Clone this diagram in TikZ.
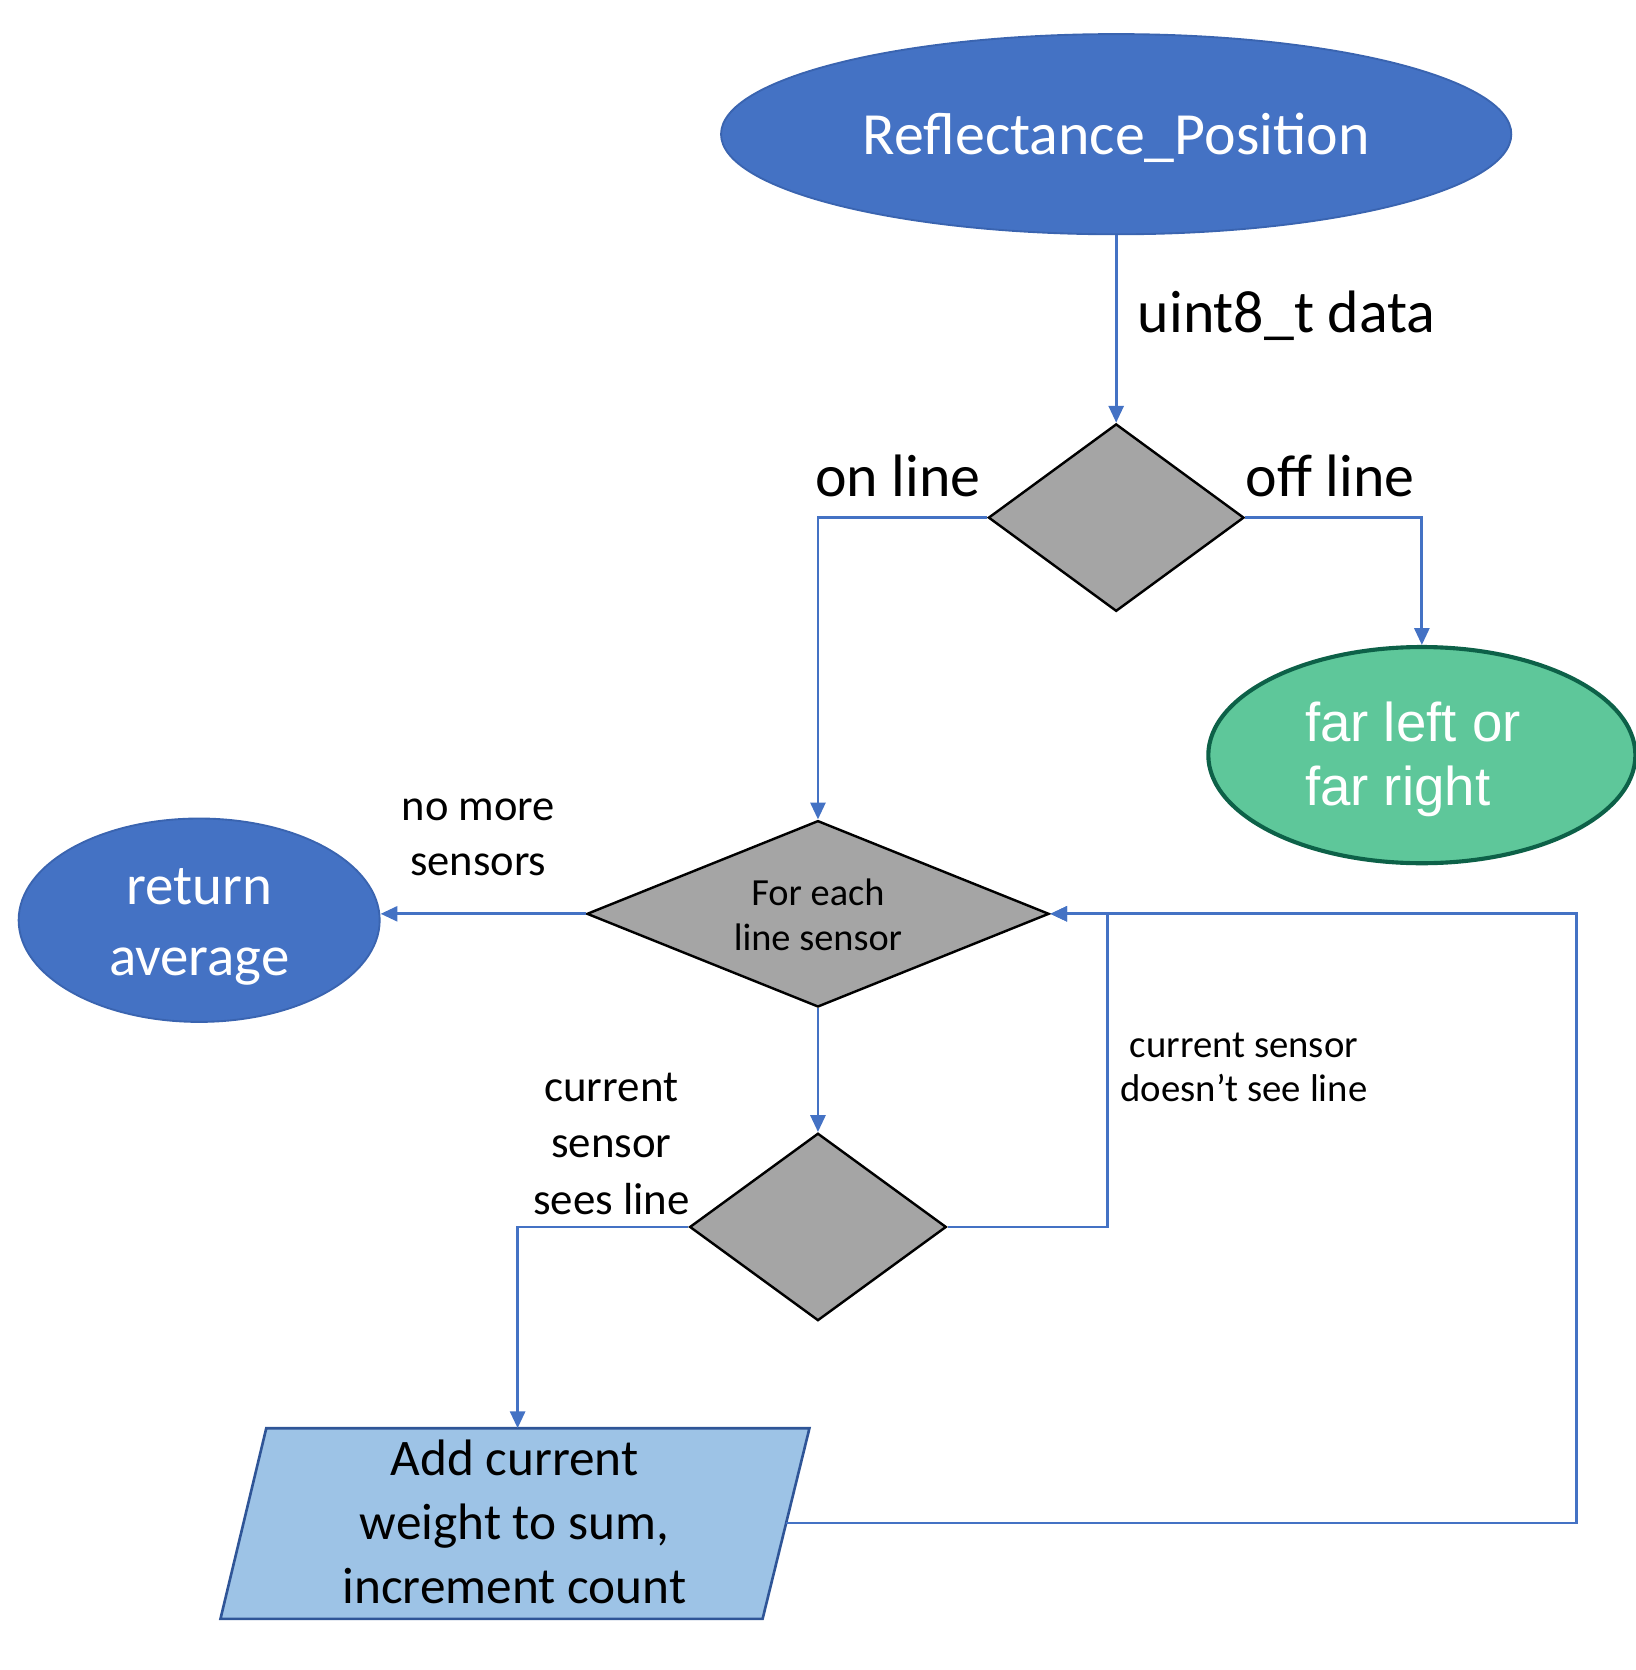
\documentclass[tikz,border=0pt]{standalone}
\usepackage{fontspec}
\setmainfont{Carlito}
\newfontfamily\arialf{Liberation Sans}
\usetikzlibrary{shapes.geometric,arrows.meta}
\definecolor{cblue}{HTML}{4472C4}
\definecolor{cblueedge}{HTML}{3A64B0}
\definecolor{cgreen}{HTML}{5EC79A}
\definecolor{cgreenedge}{HTML}{0D6148}
\definecolor{cgray}{HTML}{A5A5A5}
\definecolor{clight}{HTML}{9DC3E6}
\definecolor{clightedge}{HTML}{2F5597}
\begin{document}
\begin{tikzpicture}[x=0.02cm,y=-0.02cm,
  term/.style={ellipse,fill=cblue,draw=cblueedge,line width=1pt,inner sep=0pt,text=white},
  decide/.style={diamond,fill=cgray,draw=black,line width=1.3pt,inner sep=0pt},
  conn/.style={draw=cblue,line width=1.5pt},
  arr/.style={conn,-{Triangle[length=9pt,width=8pt]}},
  lbl/.style={inner sep=0pt,align=center,text=black}
]
\useasboundingbox (0,0) rectangle (1536,1568);

% nodes
\node[term,minimum width=742*0.02cm,minimum height=188*0.02cm] (top) at (1048,126) {};
\node[inner sep=0pt,text=white,font=\fontsize{32}{39}\selectfont] (toptxt) at (1048,129) {Reflectance\_Position};
\node[decide,minimum width=240*0.02cm,minimum height=176*0.02cm,aspect=1.36] (d1) at (1048,486) {};
\node[ellipse,fill=cgreen,draw=cgreenedge,line width=2.2pt,inner sep=0pt,
  minimum width=401*0.02cm,minimum height=203*0.02cm] (green) at (1335,709) {};
\node[anchor=west,inner sep=0pt,align=left,text=white,
  font=\arialf\fontsize{29.2}{34}\selectfont] (greentxt) at (1225,713) {far left or\\far right};
\node[decide,minimum width=434*0.02cm,minimum height=175*0.02cm,aspect=2.48] (fe) at (768,858) {};
\node[lbl,font=\fontsize{20.5}{24.4}\selectfont] (fetxt) at (768,859) {For each\\line sensor};
\node[term,minimum width=339*0.02cm,minimum height=191*0.02cm] (ret) at (187,864) {};
\node[lbl,text=white,font=\fontsize{30.4}{38}\selectfont] (rettxt) at (187,870) {return\\average};
\node[decide,minimum width=241*0.02cm,minimum height=176*0.02cm,aspect=1.37] (d3) at (768,1152) {};

% parallelogram
\coordinate (ptl) at (250,1341);
\coordinate (ptr) at (760,1341);
\coordinate (pbr) at (716,1520);
\coordinate (pbl) at (207,1520);
\draw[fill=clight,draw=clightedge,line width=1.4pt] (ptl) -- (ptr) -- (pbr) -- (pbl) -- cycle;
\node[lbl,font=\fontsize{27.4}{34}\selectfont] (para) at (483,1429) {Add current\\weight to sum,\\increment count};
\coordinate (paratop) at (486,1341);
\coordinate (pararight) at (738,1430);

% helper coordinates
\coordinate (j1) at (1040,858);
\coordinate (c2) at (1480,858);

% connectors
\draw[arr] (top.south) -- (d1.north);
\draw[arr] (d1.west) -| (fe.north);
\draw[arr] (d1.east) -| (green.north);
\draw[arr] (fe.west) -- (fe.west -| ret.east);
\draw[arr] (fe.south) -- (d3.north);
\draw[arr] (d3.west) -| (paratop);
\draw[arr] (d3.east) -| (j1) -- (fe.east);
\draw[arr] (pararight) -| (c2) -- (fe.east);

% labels
\node[lbl,anchor=west,font=\fontsize{32}{39}\selectfont] (lbldata) at (1068,296) {uint8\_t data};
\node[lbl,font=\fontsize{32}{39}\selectfont] (lblon) at (843,447) {on line};
\node[lbl,font=\fontsize{32}{39}\selectfont] (lbloff) at (1249,447) {off line};
\node[lbl,font=\fontsize{23.8}{29.5}\selectfont] (lblnomore) at (449,786) {no more\\sensors};
\node[lbl,font=\fontsize{20.7}{23.2}\selectfont] (lblnot) at (1168,1002) {current sensor\\doesn’t see line};
\node[lbl,font=\fontsize{24}{30}\selectfont] (lblsees) at (574,1074) {current\\sensor\\sees line};
\end{tikzpicture}
\end{document}
